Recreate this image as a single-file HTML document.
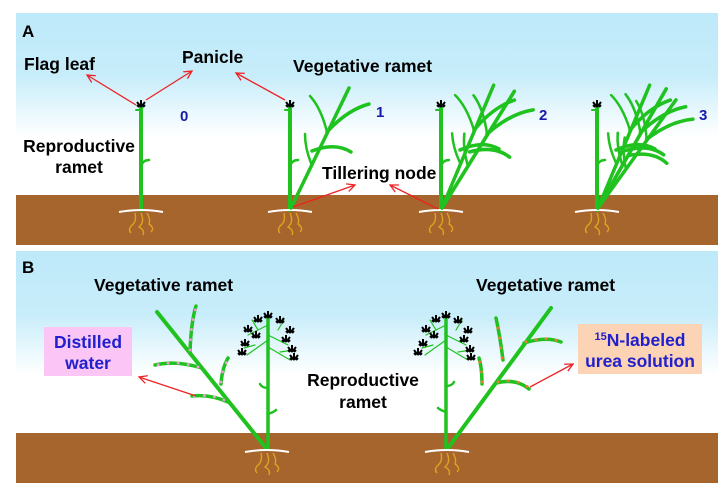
<!DOCTYPE html>
<html><head><meta charset="utf-8"><style>
html,body{margin:0;padding:0;background:#fff;}
svg{display:block;}
text{font-family:"Liberation Sans",Arial,sans-serif;font-weight:bold;}
</style></head><body>
<svg width="726" height="499" viewBox="0 0 726 499" xmlns="http://www.w3.org/2000/svg">
<defs>
<linearGradient id="sky" x1="0" y1="0" x2="0" y2="1">
<stop offset="0" stop-color="#bde9f9"/><stop offset="0.35" stop-color="#c8edfa"/><stop offset="0.68" stop-color="#ffffff"/><stop offset="1" stop-color="#ffffff"/>
</linearGradient>
<marker id="ar" markerWidth="10" markerHeight="10" refX="8" refY="5" orient="auto" markerUnits="userSpaceOnUse">
<path d="M0,1 L8,5 L0,9" fill="none" stroke="#ee2222" stroke-width="1.3"/>
</marker>
<g id="roots">
<path d="M-22,2 Q0,-2 22,2" stroke="#fff" stroke-width="2" fill="none"/>
<path d="M-6,3 Q-4,12 -10,16 Q-13,20 -10,23 M0,3 Q4,12 -2,17 Q4,20 2,25 M6,3 Q10,10 8,14 Q14,18 10,22" stroke="#e0a020" stroke-width="1.4" fill="none"/>
</g>
<g id="pan"><path d="M0,0 L-4,-5 M0,0 L4,-5 M0,0 L0,-7 M-4,-2 L-2,0 M4,-2 L2,0" stroke="#000" stroke-width="2" fill="none"/></g>
<g id="tiller" stroke="#1fc21f" stroke-width="3.5" fill="none" stroke-linecap="round">
<path d="M0,0 L58,-120"/>
<path d="M36,-76 Q56,-98 78,-104"/>
<path d="M21,-57 Q44,-66 60,-56"/>
<path d="M36,-76 Q30,-100 19,-112" stroke-width="2.5"/>
<path d="M20,-45 Q14,-60 14,-74" stroke-width="2.5"/>
</g>
<g id="stemA" stroke="#1fc21f" fill="none" stroke-linecap="round">
<path d="M0,0 L0,-102" stroke-width="4"/>
<path d="M0,-44 Q2,-50 8,-50" stroke-width="2.5"/>
<path d="M0,-100 L-5,-100" stroke-width="2"/>
</g>
</defs>
<rect x="16" y="13" width="702" height="182" fill="url(#sky)"/>
<rect x="16" y="195" width="702" height="50" fill="#a5652c"/>
<rect x="16" y="251" width="702" height="182" fill="url(#sky)"/>
<rect x="16" y="433" width="702" height="50" fill="#a5652c"/>

<text x="22" y="37" font-size="17">A</text>
<text x="22" y="273" font-size="17">B</text>

<text x="24" y="70" font-size="17.5">Flag leaf</text>
<text x="182" y="63" font-size="17.5">Panicle</text>
<text x="293" y="72" font-size="17.5">Vegetative ramet</text>
<text x="79" y="152" font-size="17.5" text-anchor="middle">Reproductive</text>
<text x="79" y="173" font-size="17.5" text-anchor="middle">ramet</text>
<text x="322" y="179" font-size="17.5">Tillering node</text>
<text x="180" y="121" font-size="15" fill="#1a1aa8">0</text>
<text x="376" y="117" font-size="15" fill="#1a1aa8">1</text>
<text x="539" y="120" font-size="15" fill="#1a1aa8">2</text>
<text x="699" y="120" font-size="15" fill="#1a1aa8">3</text>

<use href="#stemA" x="141" y="210"/><use href="#pan" x="141" y="107"/><use href="#roots" x="141" y="210"/>
<use href="#stemA" x="290" y="210"/><use href="#pan" x="290" y="107"/><use href="#roots" x="290" y="210"/>
<use href="#tiller" x="291" y="208"/>
<use href="#stemA" x="441" y="210"/><use href="#pan" x="441" y="107"/><use href="#roots" x="441" y="210"/>
<use href="#tiller" transform="translate(442,208) rotate(-3)"/>
<use href="#tiller" transform="translate(442,208) rotate(6) scale(1.03)"/>
<use href="#stemA" x="597" y="210"/><use href="#pan" x="597" y="107"/><use href="#roots" x="597" y="210"/>
<use href="#tiller" transform="translate(598,208) rotate(-3)"/>
<use href="#tiller" transform="translate(598,208) rotate(4) scale(1.03)"/>
<use href="#tiller" transform="translate(598,208) rotate(10)"/>

<g stroke="#ee2222" stroke-width="1.3" fill="none" marker-end="url(#ar)">
<line x1="136" y1="105" x2="87" y2="75"/>
<line x1="146" y1="100" x2="192" y2="71"/>
<line x1="285" y1="100" x2="236" y2="73"/>
<line x1="293" y1="207" x2="355" y2="185"/>
<line x1="438" y1="209" x2="390" y2="185"/>
</g>

<text x="94" y="291" font-size="17.5">Vegetative ramet</text>
<text x="476" y="291" font-size="17.5">Vegetative ramet</text>
<text x="363" y="386" font-size="17.5" text-anchor="middle">Reproductive</text>
<text x="363" y="408" font-size="17.5" text-anchor="middle">ramet</text>
<rect x="44" y="327" width="88" height="49" fill="#fbc6f5"/>
<text x="88" y="348" font-size="17.5" fill="#2020cc" text-anchor="middle">Distilled</text>
<text x="88" y="369" font-size="17.5" fill="#2020cc" text-anchor="middle">water</text>
<rect x="578" y="324" width="124" height="50" fill="#fcd3b4"/>
<text x="640" y="346" font-size="17.5" fill="#2020cc" text-anchor="middle"><tspan font-size="11" dy="-6">15</tspan><tspan dy="6">N-labeled</tspan></text>
<text x="640" y="367" font-size="17.5" fill="#2020cc" text-anchor="middle">urea solution</text>

<g stroke="#1fc21f" fill="none" stroke-linecap="round">
<path d="M268,448 L268,318" stroke-width="3.5"/>
<path d="M268,388 Q262,388 260,384 M268,414 Q274,412 276,410" stroke-width="2.5"/>
<path d="M266,448 L157,312" stroke-width="4"/>
<path d="M268,325 L248,335 M268,335 L288,345 M268,340 L247,355 M268,347 L290,360 M258,330 L252,320 M278,330 L284,320 M255,345 L244,348 M280,352 L294,350" stroke-width="1.2"/>
</g>
<g fill="none" stroke-linecap="round" stroke-width="3.5">
<path d="M190,352 Q191,322 196,306" stroke="#1fc21f"/>
<path d="M202,368 Q176,360 155,365" stroke="#1fc21f"/>
<path d="M221,384 Q222,368 228,358" stroke="#1fc21f"/>
<path d="M228,402 Q210,394 192,396" stroke="#1fc21f"/>
<g stroke="#f39adc" stroke-width="2.8" stroke-dasharray="0.1 10">
<path d="M190,350 Q191,322 196,308"/>
<path d="M198,367 Q176,360 157,365"/>
<path d="M221,382 Q222,368 228,360"/>
<path d="M224,400 Q210,394 194,396"/>
</g>
</g>
<g>
<use href="#pan" x="268" y="318"/><use href="#pan" x="258" y="322"/><use href="#pan" x="280" y="323"/>
<use href="#pan" x="248" y="332"/><use href="#pan" x="290" y="333"/><use href="#pan" x="256" y="338"/>
<use href="#pan" x="245" y="346"/><use href="#pan" x="286" y="342"/><use href="#pan" x="242" y="355"/><use href="#pan" x="292" y="352"/><use href="#pan" x="294" y="360"/>
</g>
<use href="#roots" x="267" y="450"/>
<line x1="196" y1="396" x2="139" y2="377" stroke="#ee2222" stroke-width="1.3" marker-end="url(#ar)"/>

<g stroke="#1fc21f" fill="none" stroke-linecap="round">
<path d="M446,448 L446,318" stroke-width="3.5"/>
<path d="M446,386 Q452,386 454,382 M446,412 Q440,410 438,408" stroke-width="2.5"/>
<path d="M448,448 L551,308" stroke-width="4"/>
<path d="M446,325 L426,335 M446,335 L466,345 M446,340 L425,355 M446,347 L468,360 M436,330 L430,320 M456,330 L462,320 M433,345 L422,348 M458,352 L472,350" stroke-width="1.2"/>
</g>
<g fill="none" stroke-linecap="round" stroke-width="3.5">
<path d="M482,384 Q482,368 479,358" stroke="#1fc21f"/>
<path d="M496,383 Q516,378 529,389" stroke="#1fc21f"/>
<path d="M524,343 Q546,336 561,342" stroke="#1fc21f"/>
<path d="M503,360 Q500,336 496,318" stroke="#1fc21f"/>
<g stroke="#ef7a3a" stroke-width="2.8" stroke-dasharray="0.1 10">
<path d="M482,382 Q482,368 479,360"/>
<path d="M498,382 Q516,378 528,387"/>
<path d="M526,342 Q546,336 558,341"/>
<path d="M502,358 Q500,336 496,320"/>
</g>
</g>
<g>
<use href="#pan" x="446" y="318"/><use href="#pan" x="436" y="322"/><use href="#pan" x="458" y="323"/>
<use href="#pan" x="426" y="332"/><use href="#pan" x="468" y="333"/><use href="#pan" x="434" y="338"/>
<use href="#pan" x="423" y="346"/><use href="#pan" x="464" y="342"/><use href="#pan" x="418" y="355"/><use href="#pan" x="470" y="352"/><use href="#pan" x="471" y="360"/>
</g>
<use href="#roots" x="447" y="450"/>
<line x1="530" y1="387" x2="573" y2="364" stroke="#ee2222" stroke-width="1.3" marker-end="url(#ar)"/>
</svg>
</body></html>
